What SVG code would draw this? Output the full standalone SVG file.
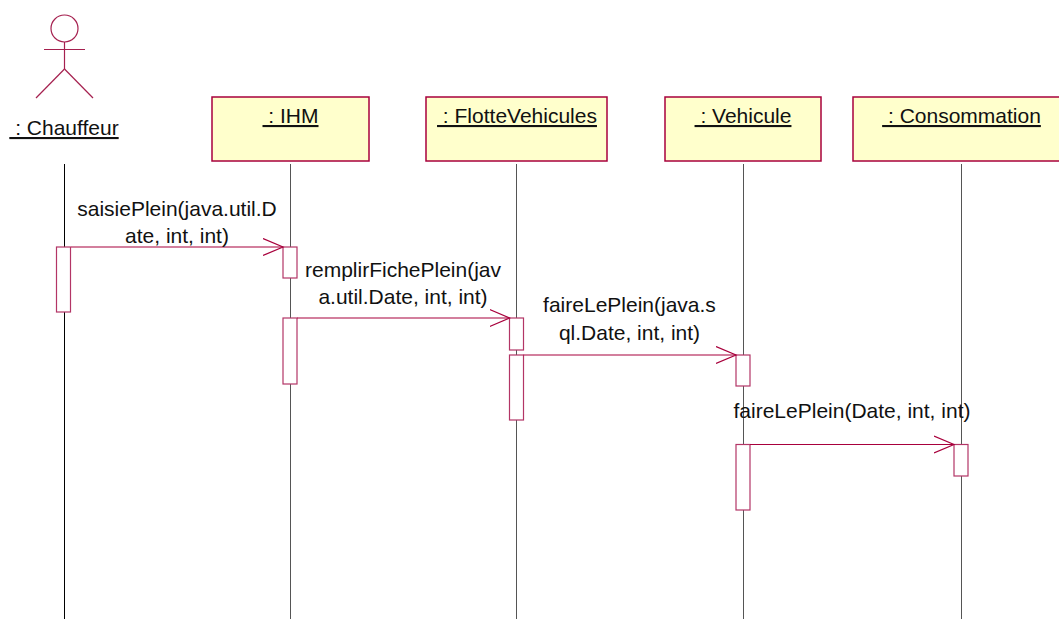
<svg xmlns="http://www.w3.org/2000/svg" width="1059" height="619" viewBox="0 0 1059 619">
<style>
text{font-family:"Liberation Sans",Arial,sans-serif;font-size:21px;fill:#111;}
.title{text-anchor:middle;text-decoration:underline;}
.lbl{text-anchor:middle;}
.box{fill:#ffffcc;stroke:#a8003c;stroke-width:1.5;}
.life{stroke:#555;stroke-width:1;fill:none;}
.act{fill:#fff;stroke:#b33566;stroke-width:1.2;}
.msg{stroke:#a8003c;stroke-width:1.2;fill:none;marker-end:url(#open);}
.actor{stroke:#a5204f;stroke-width:1.2;fill:none;}
</style>
<defs>
<marker id="open" markerUnits="userSpaceOnUse" markerWidth="22" markerHeight="20" refX="20" refY="9.5" orient="auto" viewBox="0 0 22 20">
<path d="M0,1 L20,9.5 L0,18" fill="none" stroke="#a8003c" stroke-width="1.2"/>
</marker>
</defs>
<rect width="1059" height="619" fill="#fff"/>
<g id="chauffeur">
<circle class="actor" cx="64.5" cy="28.5" r="13.5"/>
<line class="actor" x1="64.5" y1="42" x2="64.5" y2="69"/>
<line class="actor" x1="44" y1="49.5" x2="85" y2="49.5"/>
<line class="actor" x1="64.5" y1="69" x2="36" y2="98"/>
<line class="actor" x1="64.5" y1="69" x2="93" y2="98"/>
<text class="title" x="64" y="135" xml:space="preserve"> : Chauffeur</text>
<line x1="64.5" y1="164" x2="64.5" y2="619" stroke="#000" stroke-width="1"/>
<rect class="act" x="56.5" y="247" width="14" height="65"/>
</g>
<g id="ihm">
<rect class="box" x="212" y="97" width="157" height="64"/>
<text class="title" x="290.5" y="123" xml:space="preserve"> : IHM</text>
<line class="life" x1="290.5" y1="164" x2="290.5" y2="619"/>
<rect class="act" x="283" y="247" width="14" height="31"/>
<rect class="act" x="283" y="318" width="14" height="66"/>
</g>
<g id="flotte">
<rect class="box" x="426" y="97" width="181" height="64"/>
<text class="title" x="517" y="123" xml:space="preserve"> : FlotteVehicules</text>
<line class="life" x1="516.5" y1="164" x2="516.5" y2="619"/>
<rect class="act" x="509.5" y="318" width="14" height="32"/>
<rect class="act" x="509.5" y="355" width="14" height="65"/>
</g>
<g id="vehicule">
<rect class="box" x="665" y="97" width="156" height="64"/>
<text class="title" x="743" y="123" xml:space="preserve"> : Vehicule</text>
<line class="life" x1="743.5" y1="164" x2="743.5" y2="619"/>
<rect class="act" x="736" y="355" width="14" height="31"/>
<rect class="act" x="736" y="444.5" width="14" height="65.5"/>
</g>
<g id="consommation">
<rect class="box" x="853" y="97" width="216" height="64"/>
<text class="title" x="961.5" y="123" xml:space="preserve"> : Consommation</text>
<line class="life" x1="961.5" y1="164" x2="961.5" y2="619"/>
<rect class="act" x="954" y="444.5" width="14" height="31.5"/>
</g>
<g id="connectors">
<line class="msg" x1="71" y1="247" x2="283" y2="247"/>
<text class="lbl" x="177" y="216">saisiePlein(java.util.D</text>
<text class="lbl" x="177" y="243">ate, int, int)</text>
<line class="msg" x1="297" y1="318" x2="509.5" y2="318"/>
<text class="lbl" x="403" y="277">remplirFichePlein(jav</text>
<text class="lbl" x="403" y="304">a.util.Date, int, int)</text>
<line class="msg" x1="523.5" y1="355" x2="736" y2="355"/>
<text class="lbl" x="629.5" y="312">faireLePlein(java.s</text>
<text class="lbl" x="629.5" y="340">ql.Date, int, int)</text>
<line class="msg" x1="750" y1="444.5" x2="954" y2="444.5"/>
<text class="lbl" x="852" y="418">faireLePlein(Date, int, int)</text>
</g>
</svg>
